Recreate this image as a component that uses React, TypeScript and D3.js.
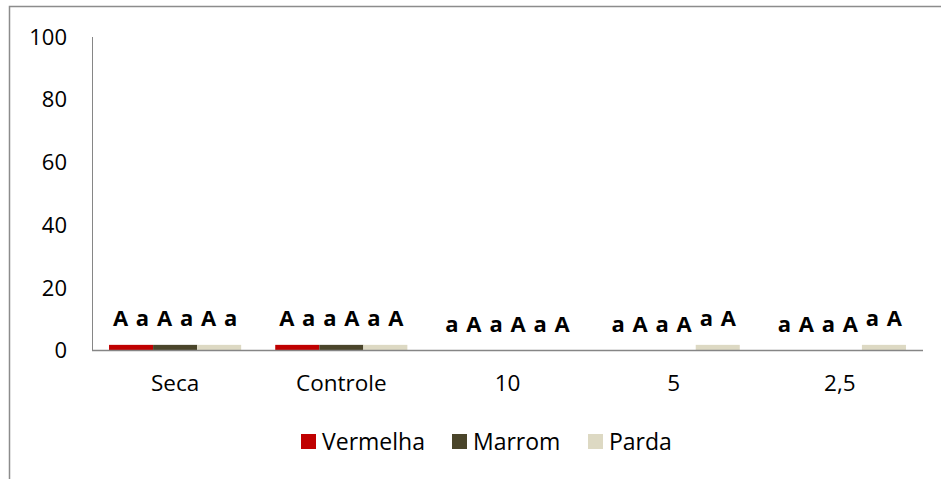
import React from 'react';
import * as d3 from 'd3';

const categories = ['Seca', 'Controle', '10', '5', '2,5'];
const seriesNames = ['Vermelha', 'Marrom', 'Parda'];
const seriesColors = ['#C00000', '#4A452A', '#DDD9C3'];
const vermelha = [1.8, 1.8, 0, 0, 0];
const marrom = [1.8, 1.8, 0, 0, 0];
const parda = [1.8, 1.8, 0, 1.8, 1.8];
const letterLabels = [
  ['A a', 'A a', 'A a'],
  ['A a', 'a A', 'a A'],
  ['a A', 'a A', 'a A'],
  ['a A', 'a A', 'a A'],
  ['a A', 'a A', 'a A'],
];
const yTicks = [0, 20, 40, 60, 80, 100];

const width = 941;
const height = 479;
const margin = { top: 37, right: 18, bottom: 129, left: 92 };
const font = '"Open Sans", sans-serif';

const App = () => {
  const values = [vermelha, marrom, parda];

  const x0 = d3.scaleBand<string>()
    .domain(categories)
    .range([margin.left, width - margin.right])
    .paddingInner(0.205)
    .paddingOuter(0.1025);

  const x1 = d3.scaleBand<string>()
    .domain(seriesNames)
    .range([0, x0.bandwidth()]);

  const y = d3.scaleLinear()
    .domain([0, 100])
    .range([height - margin.bottom + 0.5, margin.top]);

  const base = y(0);

  // legend layout
  const legendX = [301, 452, 588];

  return (
    <svg width={width} height={height} style={{ position: 'absolute', left: 0, top: 0, background: '#fff' }}>
      {/* outer frame, open on right and bottom */}
      <path d={`M9.5,${height + 2} V6.5 H${width + 2}`} fill="none" stroke="#8c8c8c" strokeWidth={1.5} />

      {/* y axis */}
      <line x1={margin.left + 0.5} x2={margin.left + 0.5} y1={y(100)} y2={base} stroke="#868686" strokeWidth={1} />
      {yTicks.map(t => (
        <text key={t} x={67} y={y(t)} dy="0.35em" textAnchor="end" fontFamily={font} fontSize={22} fill="#000">
          {t}
        </text>
      ))}

      {/* bars */}
      {categories.map((c, ci) => (
        <g key={c} transform={`translate(${x0(c)},0)`}>
          {seriesNames.map((s, si) => {
            const v = values[si][ci];
            const bx = x1(s) as number;
            return (
              <g key={s}>
                {v > 0 && (
                  <rect x={bx} y={y(v)} width={x1.bandwidth()} height={base - y(v)} fill={seriesColors[si]} />
                )}
                <text
                  x={bx + x1.bandwidth() / 2}
                  y={y(v) - 19}
                  textAnchor="middle"
                  fontFamily={font}
                  fontWeight="bold"
                  fontSize={22}
                  style={{ wordSpacing: '2px' }}
                  fill="#000"
                >
                  {letterLabels[ci][si]}
                </text>
              </g>
            );
          })}
        </g>
      ))}

      {/* x axis baseline */}
      <line x1={margin.left} x2={width - margin.right} y1={base} y2={base} stroke="#868686" strokeWidth={1.5} />
      {categories.map(c => (
        <text key={c} x={(x0(c) as number) + x0.bandwidth() / 2} y={383} dy="0.35em" textAnchor="middle" fontFamily={font} fontSize={22.5} fill="#000">
          {c}
        </text>
      ))}

      {/* legend */}
      {seriesNames.map((s, i) => (
        <g key={s} transform={`translate(${legendX[i]},434)`}>
          <rect x={0} y={0} width={15} height={15} fill={seriesColors[i]} />
          <text x={21} y={7.5} dy="0.35em" fontFamily={font} fontSize={23} fill="#000">{s}</text>
        </g>
      ))}
    </svg>
  );
};

export default App;
